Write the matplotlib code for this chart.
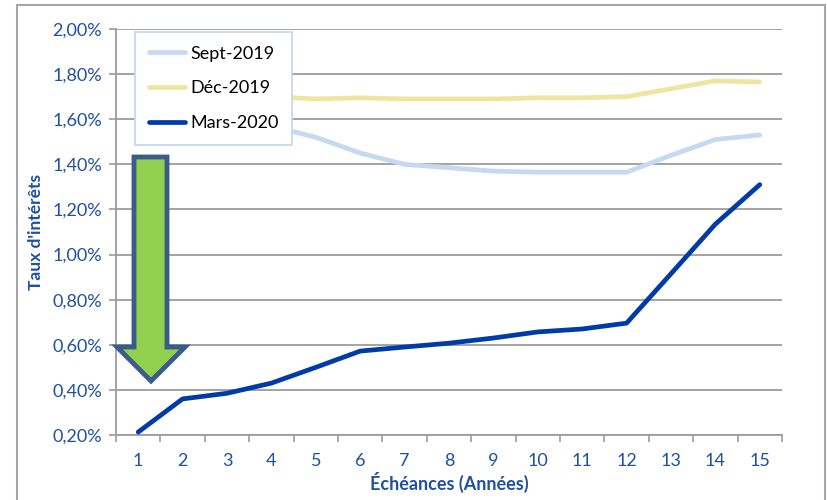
import matplotlib
matplotlib.use("Agg")
import matplotlib.pyplot as plt
from matplotlib.patches import Polygon, Rectangle
from matplotlib.ticker import FuncFormatter, FixedLocator

plt.rcParams['font.family'] = ['Lato', 'DejaVu Sans']

maturities = list(range(1, 16))
sept_2019 = [1.72, 1.67, 1.62, 1.57, 1.52, 1.45, 1.40, 1.385, 1.37, 1.365, 1.365, 1.365, 1.44, 1.51, 1.53]
dec_2019 = [1.70, 1.70, 1.70, 1.70, 1.69, 1.695, 1.69, 1.69, 1.69, 1.695, 1.695, 1.70, 1.735, 1.77, 1.765]
mars_2020 = [0.213, 0.36, 0.385, 0.43, 0.50, 0.572, 0.59, 0.607, 0.63, 0.657, 0.67, 0.696, 0.915, 1.135, 1.31]
y_ticks = [0.2, 0.4, 0.6, 0.8, 1.0, 1.2, 1.4, 1.6, 1.8, 2.0]

W, H = 827, 500
fig = plt.figure(figsize=(W / 100, H / 100), dpi=100)
L, R, T, B = 116, 782, 29, 435
ax = fig.add_axes([L / W, 1 - B / H, (R - L) / W, (B - T) / H])

blue_txt = '#1F4FA3'
grid_c = '#9C9C9C'

ax.plot(maturities, sept_2019, color='#C6D9F1', lw=3.4, solid_capstyle='round', label='Sept-2019', zorder=3)
ax.plot(maturities, dec_2019, color='#EEE5A0', lw=3.4, solid_capstyle='round', label='Déc-2019', zorder=3)
ax.plot(maturities, mars_2020, color='#003BA7', lw=3.4, solid_capstyle='round', label='Mars-2020', zorder=4)

ax.set_xlim(0.5, 15.5)
ax.set_ylim(0.2, 2.0)
ax.set_yticks(y_ticks)
ax.yaxis.set_major_formatter(FuncFormatter(lambda v, p: f"{v:.2f}%".replace('.', ',')))
ax.set_xticks(maturities)
ax.set_xticklabels([str(m) for m in maturities])
ax.xaxis.set_minor_locator(FixedLocator([i + 0.5 for i in range(0, 16)]))
ax.tick_params(axis='x', which='major', length=0, pad=13, labelsize=13, labelcolor=blue_txt)
ax.tick_params(axis='x', which='minor', length=5, color=grid_c, width=1.2)
ax.tick_params(axis='y', which='major', length=5, color=grid_c, width=1.2, labelsize=13, labelcolor=blue_txt, pad=5)
ax.grid(axis='y', color=grid_c, lw=1.3, zorder=0)
ax.set_axisbelow(True)
for s in ['top', 'right']:
    ax.spines[s].set_visible(False)
for s in ['left', 'bottom']:
    ax.spines[s].set_color(grid_c)
    ax.spines[s].set_linewidth(1.3)

ax.set_ylabel("Taux d'intérêts", color=blue_txt, fontsize=12.5, fontweight='bold', labelpad=6)
ax.set_xlabel("Échéances (Années)", color=blue_txt, fontsize=13, fontweight='bold', labelpad=2)

leg = ax.legend(loc='upper left', bbox_to_anchor=((135 - L) / (R - L), 1 - (32 - T) / (B - T)),
                fontsize=13, frameon=True, fancybox=False, framealpha=1, handlelength=2.0, handletextpad=0.3,
                labelspacing=1.05, borderpad=0.75, borderaxespad=0)
leg.get_frame().set_edgecolor('#C6D9F1')
leg.get_frame().set_linewidth(1.3)
leg.set_zorder(5)

def fx(px):
    return (px - L) / (R - L)

def fy(py):
    return (B - py) / (B - T)

arrow_px = [(134, 157), (167, 157), (167, 347), (185, 347), (151, 381), (117, 347), (134, 347)]
arrow = Polygon([(fx(x), fy(y)) for x, y in arrow_px], closed=True, transform=ax.transAxes,
                facecolor='#92D050', edgecolor='#3B5C88', lw=3.5, joinstyle='miter', zorder=6, clip_on=False)
ax.add_patch(arrow)

fig.patches.append(Rectangle((17 / W, -0.05), (825 - 17) / W, 1 - 5 / H + 0.05, transform=fig.transFigure,
                             fill=False, edgecolor='#A6A6A6', lw=1.5))

fig.savefig('out.png', dpi=100)
